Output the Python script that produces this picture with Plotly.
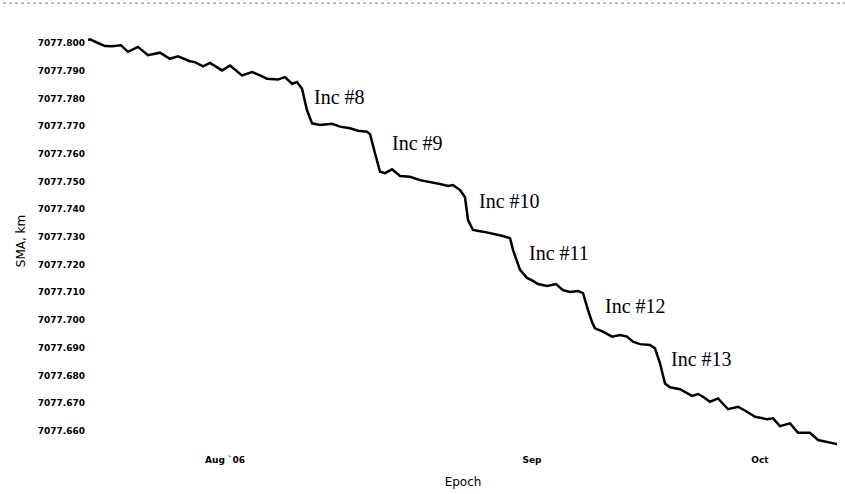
import pandas as pd
import plotly.graph_objects as go

# Semi-major axis history, days measured from 1 Aug 2006
START = pd.Timestamp("2006-08-01")
DAY = [
    -13.84, -13.64, -12.83, -12.12, -11.41, -10.51, -9.80, -8.79, -7.78, -6.57,
    -5.56, -4.75, -3.54, -3.03, -2.22, -1.52, -0.30, 0.51, 1.72, 2.73,
    3.54, 4.24, 5.35, 6.06, 6.77, 7.27, 7.78, 8.28, 8.79, 9.60,
    10.81, 11.62, 12.63, 13.43, 14.34, 14.65, 15.15, 15.66, 16.16, 16.87,
    17.68, 18.69, 19.70, 20.71, 21.72, 22.53, 23.03, 23.74, 24.24, 24.55,
    25.05, 26.06, 26.97, 27.47, 28.08, 28.79, 29.09, 29.80, 30.51, 31.11,
    31.62, 32.53, 33.43, 34.14, 34.85, 35.66, 36.16, 36.67, 37.07, 37.37,
    38.18, 39.09, 39.90, 40.61, 41.21, 41.92, 42.93, 43.43, 43.94, 44.44,
    44.95, 45.96, 46.46, 47.17, 47.78, 48.28, 48.99, 49.80, 50.81, 51.82,
    52.73, 53.54, 54.75, 55.35, 56.06, 57.07, 57.88, 59.09, 59.90, 60.81,
    61.82,
]
SMA_KM = [
    7077.8011, 7077.8013, 7077.8000, 7077.7989, 7077.7988, 7077.7992, 7077.7968, 7077.7986, 7077.7956, 7077.7965,
    7077.7943, 7077.7952, 7077.7934, 7077.7931, 7077.7916, 7077.7928, 7077.7901, 7077.7919, 7077.7883, 7077.7895,
    7077.7883, 7077.7871, 7077.7868, 7077.7877, 7077.7853, 7077.7859, 7077.7835, 7077.7758, 7077.7710, 7077.7704,
    7077.7708, 7077.7698, 7077.7692, 7077.7683, 7077.7680, 7077.7671, 7077.7602, 7077.7535, 7077.7530, 7077.7544,
    7077.7520, 7077.7517, 7077.7505, 7077.7499, 7077.7491, 7077.7484, 7077.7487, 7077.7469, 7077.7443, 7077.7361,
    7077.7325, 7077.7319, 7077.7313, 7077.7307, 7077.7303, 7077.7295, 7077.7253, 7077.7181, 7077.7152, 7077.7141,
    7077.7130, 7077.7123, 7077.7130, 7077.7108, 7077.7101, 7077.7105, 7077.7097, 7077.7036, 7077.6993, 7077.6970,
    7077.6958, 7077.6940, 7077.6946, 7077.6940, 7077.6922, 7077.6913, 7077.6910, 7077.6898, 7077.6844, 7077.6771,
    7077.6757, 7077.6750, 7077.6741, 7077.6726, 7077.6733, 7077.6723, 7077.6705, 7077.6717, 7077.6678, 7077.6687,
    7077.6669, 7077.6651, 7077.6642, 7077.6645, 7077.6617, 7077.6627, 7077.6593, 7077.6593, 7077.6567, 7077.6561,
    7077.6552,
]

# Manoeuvre labels: text, day, SMA at label anchor
INC_LABELS = ["Inc #8", "Inc #9", "Inc #10", "Inc #11", "Inc #12", "Inc #13"]
INC_DAY = [8.79, 16.67, 25.45, 30.51, 38.18, 44.85]
INC_SMA = [7077.7805, 7077.7639, 7077.7430, 7077.7242, 7077.7051, 7077.6859]

Y_TICKS = [7077.660 + 0.010 * i for i in range(15)]
X_TICK_DAY = [0, 31, 54.04]
X_TICK_TEXT = ["Aug `06", "Sep", "Oct"]
X_RANGE_DAY = [-14.04, 62.12]
Y_RANGE = [7077.6520, 7077.80505]


def to_date(d):
    return START + pd.to_timedelta(d, unit="D")


epoch = [to_date(d) for d in DAY]

fig = go.Figure()
fig.add_trace(go.Scatter(
    x=epoch, y=SMA_KM, mode="lines",
    line=dict(color="#000000", width=2.5),
    hoverinfo="skip", showlegend=False,
))

for text, d, v in zip(INC_LABELS, INC_DAY, INC_SMA):
    fig.add_annotation(
        x=to_date(d), y=v, text=text, showarrow=False,
        xanchor="left", yanchor="middle",
        font=dict(family="Liberation Serif", size=20, color="#000000"),
    )

# faint dotted edge along the top of the page
fig.add_shape(type="line", xref="paper", yref="paper",
              x0=-0.11, x1=1.01, y0=1.061, y1=1.061,
              line=dict(color="#7a7a7a", width=1, dash="dot"))

tick_font = dict(family="DejaVu Sans", size=9, color="#000000", weight="bold")

fig.update_layout(
    width=845, height=494,
    margin=dict(l=86, r=5, t=29, b=41),
    paper_bgcolor="#ffffff", plot_bgcolor="#ffffff",
    xaxis=dict(
        range=[to_date(X_RANGE_DAY[0]), to_date(X_RANGE_DAY[1])],
        tickvals=[to_date(d) for d in X_TICK_DAY], ticktext=X_TICK_TEXT,
        showgrid=False, zeroline=False, showline=False, ticks="",
        tickfont=tick_font,
        title=dict(text="Epoch", font=dict(family="DejaVu Sans", size=12, color="#000000"), standoff=13),
    ),
    yaxis=dict(
        range=Y_RANGE,
        tickvals=Y_TICKS, ticktext=[f"{v:.3f}" for v in Y_TICKS],
        showgrid=False, zeroline=False, showline=False, ticks="",
        tickfont=tick_font,
        title=dict(text="SMA, km", font=dict(family="DejaVu Sans", size=12, color="#000000"), standoff=9),
    ),
)

fig.write_html("out.html")
